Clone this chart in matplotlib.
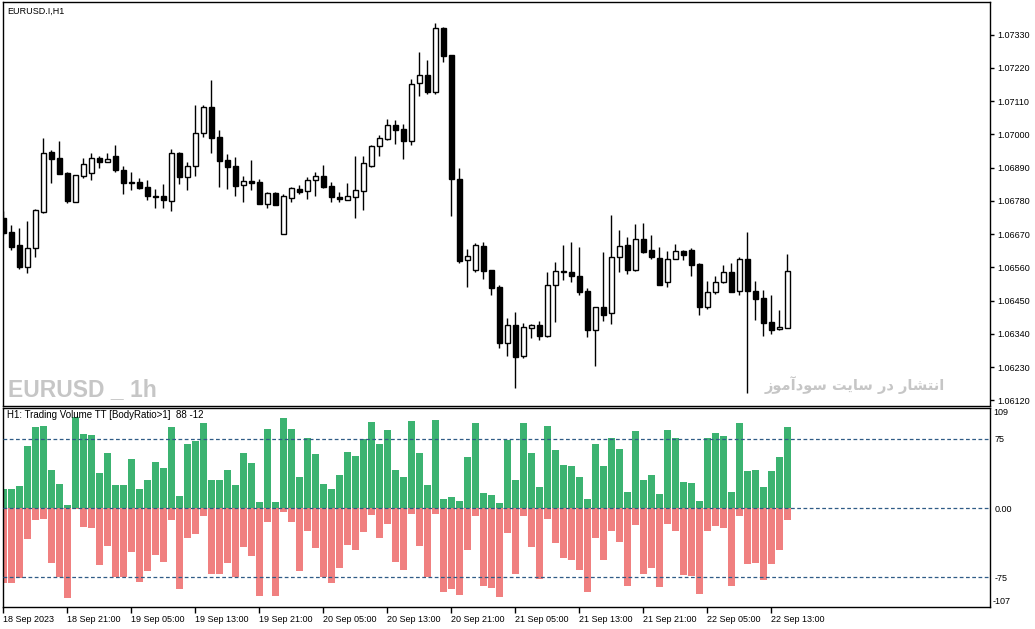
import matplotlib
matplotlib.use('Agg')
import matplotlib.pyplot as plt

# candles (oldest first, H1 bars from 18 Sep 2023 13:00)
opens = [1.06722, 1.06676, 1.06634, 1.06562, 1.06623, 1.06744, 1.06941, 1.06921, 1.06872, 1.06777,
         1.06863, 1.06871, 1.06922, 1.06910, 1.06928, 1.06882, 1.06842, 1.06842, 1.06826, 1.06795,
         1.06796, 1.06780, 1.06938, 1.06858, 1.06894, 1.07004, 1.07090, 1.06991, 1.06915, 1.06896,
         1.06831, 1.06845, 1.06842, 1.06769, 1.06806, 1.06669, 1.06788, 1.06818, 1.06812, 1.06848,
         1.06862, 1.06829, 1.06793, 1.06782, 1.06792, 1.06814, 1.06896, 1.06960, 1.06985, 1.07030,
         1.07017, 1.06979, 1.07169, 1.07195, 1.07141, 1.07351, 1.07261, 1.06852, 1.06584, 1.06553,
         1.06631, 1.06552, 1.06495, 1.06309, 1.06369, 1.06268, 1.06359, 1.06369, 1.06334, 1.06501,
         1.06547, 1.06544, 1.06531, 1.06481, 1.06354, 1.06428, 1.06408, 1.06593, 1.06633, 1.06553,
         1.06653, 1.06617, 1.06590, 1.06511, 1.06587, 1.06613, 1.06617, 1.06571, 1.06428, 1.06478,
         1.06511, 1.06544, 1.06481, 1.06587, 1.06481, 1.06458, 1.06379, 1.06355, 1.06361]
highs = [1.06748, 1.06700, 1.06691, 1.06714, 1.06752, 1.06988, 1.06948, 1.06978, 1.06874, 1.06865,
         1.06921, 1.06937, 1.06928, 1.06938, 1.06965, 1.06895, 1.06875, 1.06855, 1.06849, 1.06819,
         1.06836, 1.06952, 1.06941, 1.06907, 1.07097, 1.07097, 1.07180, 1.07014, 1.06935, 1.06925,
         1.06862, 1.06915, 1.06852, 1.06810, 1.06808, 1.06803, 1.06825, 1.06832, 1.06858, 1.06874,
         1.06899, 1.06842, 1.06809, 1.06839, 1.06928, 1.06928, 1.06966, 1.06998, 1.07050, 1.07047,
         1.07033, 1.07182, 1.07272, 1.07246, 1.07367, 1.07354, 1.07261, 1.06889, 1.06620, 1.06640,
         1.06644, 1.06552, 1.06502, 1.06392, 1.06412, 1.06375, 1.06372, 1.06382, 1.06544, 1.06577,
         1.06634, 1.06644, 1.06628, 1.06491, 1.06428, 1.06611, 1.06732, 1.06683, 1.06659, 1.06704,
         1.06707, 1.06667, 1.06627, 1.06613, 1.06636, 1.06617, 1.06623, 1.06574, 1.06514, 1.06532,
         1.06567, 1.06574, 1.06594, 1.06677, 1.06514, 1.06484, 1.06468, 1.06418, 1.06603]
lows = [1.06667, 1.06618, 1.06555, 1.06543, 1.06593, 1.06739, 1.06840, 1.06868, 1.06774, 1.06777,
        1.06856, 1.06849, 1.06888, 1.06910, 1.06876, 1.06804, 1.06816, 1.06818, 1.06783, 1.06757,
        1.06757, 1.06746, 1.06837, 1.06816, 1.06863, 1.06992, 1.06939, 1.06827, 1.06819, 1.06797,
        1.06777, 1.06816, 1.06769, 1.06757, 1.06767, 1.06669, 1.06777, 1.06803, 1.06786, 1.06797,
        1.06823, 1.06777, 1.06777, 1.06782, 1.06724, 1.06751, 1.06893, 1.06929, 1.06982, 1.06969,
        1.06918, 1.06966, 1.07128, 1.07134, 1.07134, 1.07240, 1.06731, 1.06576, 1.06496, 1.06546,
        1.06523, 1.06470, 1.06295, 1.06268, 1.06162, 1.06261, 1.06326, 1.06321, 1.06331, 1.06381,
        1.06517, 1.06511, 1.06468, 1.06331, 1.06235, 1.06384, 1.06374, 1.06546, 1.06539, 1.06549,
        1.06609, 1.06587, 1.06503, 1.06496, 1.06587, 1.06584, 1.06531, 1.06404, 1.06421, 1.06471,
        1.06507, 1.06478, 1.06468, 1.06144, 1.06386, 1.06334, 1.06341, 1.06352, 1.06359]
closes = [1.06675, 1.06629, 1.06562, 1.06624, 1.06750, 1.06937, 1.06919, 1.06868, 1.06780, 1.06865,
          1.06902, 1.06921, 1.06910, 1.06918, 1.06882, 1.06838, 1.06838, 1.06822, 1.06797, 1.06794,
          1.06784, 1.06937, 1.06860, 1.06895, 1.07004, 1.07090, 1.06989, 1.06913, 1.06893, 1.06830,
          1.06845, 1.06840, 1.06769, 1.06806, 1.06767, 1.06795, 1.06822, 1.06810, 1.06848, 1.06862,
          1.06827, 1.06792, 1.06785, 1.06795, 1.06815, 1.06904, 1.06960, 1.06987, 1.07030, 1.07015,
          1.06979, 1.07165, 1.07195, 1.07141, 1.07351, 1.07260, 1.06853, 1.06582, 1.06597, 1.06634,
          1.06549, 1.06493, 1.06309, 1.06369, 1.06265, 1.06362, 1.06369, 1.06334, 1.06501, 1.06547,
          1.06544, 1.06531, 1.06480, 1.06354, 1.06428, 1.06404, 1.06593, 1.06630, 1.06553, 1.06653,
          1.06612, 1.06593, 1.06503, 1.06587, 1.06613, 1.06600, 1.06569, 1.06430, 1.06478, 1.06511,
          1.06544, 1.06478, 1.06587, 1.06481, 1.06457, 1.06377, 1.06352, 1.06362, 1.06547]

# Trading Volume TT indicator: buy share (green) and sell share (red, drawn downward)
buy_vol = [21, 21, 24.5, 67, 88, 89, 41.5, 26, 3.6, 99,
           80, 79, 38, 60, 25, 25, 53, 21, 30, 50,
           44, 88, 13, 70, 73, 92, 31, 31, 41.5, 25,
           60, 49, 7, 86, 7, 98, 86, 34, 76, 59,
           26, 21, 36, 61, 57, 75, 93, 70, 85, 41.5,
           34, 94.5, 60, 25, 95.5, 10, 12, 8, 55.5, 92,
           16.6, 14.4, 5.8, 74, 30, 92, 60, 23, 89, 63,
           47, 46, 34, 10, 70, 46, 76, 64, 17.7, 84,
           30, 36, 15.5, 85, 76, 28.5, 27.4, 8, 76, 81.5,
           78, 17.7, 92, 40, 41.5, 23, 40, 55.5, 88]
sell_vol = [81, 81, 75.7, 33, 12.6, 11.5, 59, 74, 97, 1.4,
            20, 21, 62, 41, 75, 75, 47, 80, 68, 50.5,
            58, 12.6, 87, 32, 28, 8.3, 71, 71, 59, 75,
            42, 51.6, 95, 15, 95, 4, 15, 68, 24.5, 43,
            75, 81, 64.5, 40, 45, 25.6, 7.2, 32, 17, 58,
            67, 5.8, 41, 75, 5.8, 90.5, 88, 94, 45, 8.3,
            84, 86, 96, 26.7, 71, 8.3, 42, 77, 11.5, 37.5,
            54, 56, 67, 90.5, 32, 56, 24.5, 36.4, 84, 18,
            71, 64.5, 85, 17, 24.5, 72, 73, 92.7, 24.5, 19,
            22, 84, 8.3, 60, 59, 77.5, 60, 45, 12.6]

price_ticks = [1.06120, 1.06230, 1.06340, 1.06450, 1.06560, 1.06670,
               1.06780, 1.06890, 1.07000, 1.07110, 1.07220, 1.07330]
vol_levels = [75, 0, -75]
vol_labels = ['75', '0.00', '-75']
vol_max, vol_min = 109, -107
time_labels = ['18 Sep 2023', '18 Sep 21:00', '19 Sep 05:00', '19 Sep 13:00', '19 Sep 21:00',
               '20 Sep 05:00', '20 Sep 13:00', '20 Sep 21:00', '21 Sep 05:00', '21 Sep 13:00',
               '21 Sep 21:00', '22 Sep 05:00', '22 Sep 13:00']
label_every = 8

watermark = 'EURUSD _ 1h'
site_text = 'انتشار در سایت سودآموز'

# ---- minimal Arabic-script shaping (matplotlib has none) ----
FORMS = {  # isolated, final, initial, medial
    'ا': ('\uFE8D', '\uFE8E', None, None),
    'آ': ('\uFE81', '\uFE82', None, None),
    'ن': ('\uFEE5', '\uFEE6', '\uFEE7', '\uFEE8'),
    'ت': ('\uFE95', '\uFE96', '\uFE97', '\uFE98'),
    'ش': ('\uFEB5', '\uFEB6', '\uFEB7', '\uFEB8'),
    'ر': ('\uFEAD', '\uFEAE', None, None),
    'د': ('\uFEA9', '\uFEAA', None, None),
    'س': ('\uFEB1', '\uFEB2', '\uFEB3', '\uFEB4'),
    'ی': ('\uFEEF', '\uFEF0', '\uFEF3', '\uFEF4'),
    'و': ('\uFEED', '\uFEEE', None, None),
    'م': ('\uFEE1', '\uFEE2', '\uFEE3', '\uFEE4'),
    'ز': ('\uFEAF', '\uFEB0', None, None),
}


def shape_rtl(s):
    out = []
    for j, c in enumerate(s):
        if c not in FORMS:
            out.append(c)
            continue
        prev = s[j - 1] if j > 0 else ''
        nxt = s[j + 1] if j + 1 < len(s) else ''
        jp = prev in FORMS and FORMS[prev][2] is not None
        jn = nxt in FORMS and FORMS[c][2] is not None
        if jp and jn:
            out.append(FORMS[c][3])
        elif jp:
            out.append(FORMS[c][1])
        elif jn:
            out.append(FORMS[c][2])
        else:
            out.append(FORMS[c][0])
    return ''.join(reversed(out))


# ---- layout in pixels ----
W, H = 1035, 629
left_px, right_px = 2.5, 990
main_top, main_bot = 2, 405.5
sub_top, sub_bot = 407.5, 607
bar0_px, bar_step = 3.3, 8
px_per_price = 33.27 / 0.0011
ref_price, ref_y = 1.07330, 34.5
small = 6.5

plt.rcParams['font.family'] = ['Liberation Sans', 'DejaVu Sans']
fig = plt.figure(figsize=(W / 100, H / 100), dpi=100)
ax1 = fig.add_axes([left_px / W, 1 - main_bot / H, (right_px - left_px) / W, (main_bot - main_top) / H])
ax2 = fig.add_axes([left_px / W, 1 - sub_bot / H, (right_px - left_px) / W, (sub_bot - sub_top) / H])

x = list(range(len(opens)))
xlim = ((left_px - bar0_px) / bar_step, (right_px - bar0_px) / bar_step)

# candles
ax1.vlines(x, lows, highs, color='black', linewidth=1, zorder=2)
body_bottom = [min(o, c) for o, c in zip(opens, closes)]
body_h = [abs(c - o) for o, c in zip(opens, closes)]
face = ['white' if c >= o else 'black' for o, c in zip(opens, closes)]
ax1.bar(x, body_h, bottom=body_bottom, width=0.6, color=face, edgecolor='black',
        linewidth=1, zorder=3)
ax1.set_xlim(xlim)
ax1.set_ylim(ref_price - (main_bot - ref_y) / px_per_price, ref_price + (ref_y - main_top) / px_per_price)
ax1.yaxis.tick_right()
ax1.set_yticks(price_ticks)
ax1.set_yticklabels(['%.5f' % p for p in price_ticks])
ax1.tick_params(axis='y', length=3, width=1, labelsize=small, pad=2)
ax1.tick_params(axis='x', bottom=False, labelbottom=False)
ax1.text(0.005, 0.988, 'EURUSD.I,H1', transform=ax1.transAxes, fontsize=small, va='top', ha='left')

fig.text(8 / W, 1 - 396 / H, watermark, fontsize=16.5, fontweight='bold',
         color='#c6c6c6', family=['Liberation Sans'], ha='left', va='baseline')
fig.text(945 / W, 1 - 385 / H, shape_rtl(site_text), fontsize=10.5, fontweight='bold', color='#c6c6c6',
         family=['DejaVu Sans'], ha='right', va='center')

# volume panel
ax2.bar(x, buy_vol, width=0.82, color='#3cb371', linewidth=0, zorder=2)
ax2.bar(x, [-v for v in sell_vol], width=0.82, color='#f08080', linewidth=0, zorder=2)
for lv in vol_levels:
    ax2.axhline(lv, color='#2f5b86', linewidth=0.9, linestyle=(0, (3, 2)), zorder=3)
ax2.set_xlim(xlim)
ax2.set_ylim(vol_min, vol_max)
ax2.yaxis.tick_right()
ax2.set_yticks(vol_levels)
ax2.set_yticklabels(vol_labels)
ax2.tick_params(axis='y', length=0, labelsize=small, pad=3)
ax2.text(1.003, 0.995, str(vol_max), transform=ax2.transAxes, fontsize=small, va='top', ha='left')
ax2.text(1.003, 0.005, str(vol_min), transform=ax2.transAxes, fontsize=small, va='bottom', ha='left')
ax2.text(0.005, 0.985, 'H1: Trading Volume TT [BodyRatio>1]  %d -%d' % (round(buy_vol[-1]), int(sell_vol[-1])),
         transform=ax2.transAxes, fontsize=7, va='top', ha='left')

ax2.set_xticks(x[::label_every])
ax2.set_xticklabels(time_labels, ha='left')
ax2.tick_params(axis='x', length=4, width=1, labelsize=small, pad=1.5)

for ax in (ax1, ax2):
    for sp in ax.spines.values():
        sp.set_color('black')
        sp.set_linewidth(1)

fig.savefig('out.png', dpi=100, facecolor='white')
